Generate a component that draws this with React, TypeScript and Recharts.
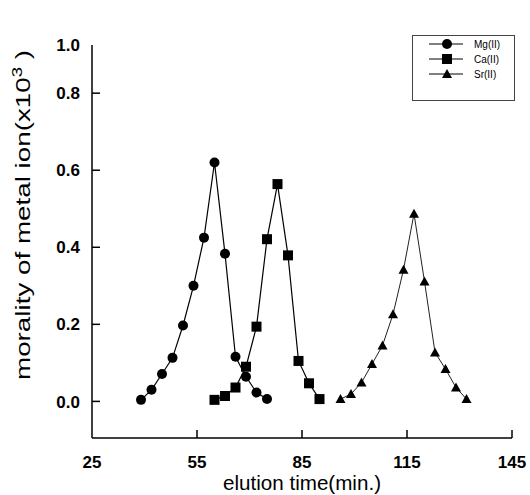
import React from "react";
import { Legend, Line, LineChart, XAxis, YAxis } from "recharts";

// elution time (min.) and molality (x10^3)
const mgTime = [39, 42, 45, 48, 51, 54, 57, 60, 63, 66, 69, 72, 75];
const mgValue = [0.004, 0.03, 0.071, 0.113, 0.197, 0.3, 0.425, 0.62, 0.383, 0.116, 0.064, 0.023, 0.006];

const caTime = [60, 63, 66, 69, 72, 75, 78, 81, 84, 87, 90];
const caValue = [0.004, 0.014, 0.036, 0.09, 0.194, 0.421, 0.564, 0.379, 0.105, 0.047, 0.006];

const srTime = [96, 99, 102, 105, 108, 111, 114, 117, 120, 123, 126, 129, 132];
const srValue = [0.006, 0.019, 0.049, 0.097, 0.145, 0.226, 0.342, 0.487, 0.311, 0.127, 0.084, 0.036, 0.006];

const seriesNames = ["Mg(II)", "Ca(II)", "Sr(II)"];

const xTicks = [25, 55, 85, 115, 145];
// the printed axis is squeezed at the top: its "1.0" label sits where ~0.925 falls
const Y_TOP = 0.925;
const yTicks = [0, 0.2, 0.4, 0.6, 0.8, Y_TOP];

const FONT = "'Liberation Sans', Arial, sans-serif";

const zip = (t: number[], v: number[]) => t.map((x, i) => ({ t: x, v: v[i] }));
const mgData = zip(mgTime, mgValue);
const caData = zip(caTime, caValue);
const srData = zip(srTime, srValue);

function CircleDot(p: any) {
  if (p.cx == null) return null;
  return <circle cx={p.cx} cy={p.cy} r={5} fill="#000" />;
}
function SquareDot(p: any) {
  if (p.cx == null) return null;
  return <rect x={p.cx - 5} y={p.cy - 5} width={10} height={10} fill="#000" />;
}
function TriangleDot(p: any) {
  if (p.cx == null) return null;
  return <polygon points={`${p.cx},${p.cy - 5} ${p.cx - 5},${p.cy + 4} ${p.cx + 5},${p.cy + 4}`} fill="#000" />;
}

function YTick({ x, y, payload }: any) {
  const top = payload.value === Y_TOP;
  return (
    <g>
      {!top && <line x1={x + 12} x2={x + 20} y1={y} y2={y} stroke="#000" strokeWidth={1.5} />}
      <text x={x} y={y} dy="0.36em" textAnchor="end" fontFamily={FONT} fontWeight="bold" fontSize={17} fill="#000">
        {top ? "1.0" : payload.value.toFixed(1)}
      </text>
    </g>
  );
}

function XTick({ x, y, payload }: any) {
  return (
    <g>
      {payload.value !== 25 && <line x1={x} x2={x} y1={y - 18} y2={y - 26} stroke="#000" strokeWidth={1.5} />}
      <text x={x} y={y} dy="0.72em" textAnchor="middle" fontFamily={FONT} fontWeight="bold" fontSize={17} fill="#000">
        {payload.value}
      </text>
    </g>
  );
}

function LegendBox() {
  const marks = [
    (cx: number, cy: number) => <circle cx={cx} cy={cy} r={5} fill="#000" />,
    (cx: number, cy: number) => <rect x={cx - 5} y={cy - 5} width={10} height={10} fill="#000" />,
    (cx: number, cy: number) => <polygon points={`${cx},${cy - 5} ${cx - 5},${cy + 4} ${cx + 5},${cy + 4}`} fill="#000" />,
  ];
  return (
    <div style={{ width: 103, height: 66, border: "1px solid #444", boxSizing: "border-box", background: "#fff" }}>
      <svg width={101} height={64} style={{ display: "block" }}>
        {seriesNames.map((name, i) => {
          const cy = 8 + i * 15;
          return (
            <g key={name}>
              <line x1={16} x2={50} y1={cy} y2={cy} stroke="#000" strokeWidth={1} />
              {marks[i](34, cy)}
              <text x={61} y={cy} dy="0.35em" fontFamily={FONT} fontSize={10} fill="#000">
                {name}
              </text>
            </g>
          );
        })}
      </svg>
    </div>
  );
}

export default function App() {
  return (
    <div style={{ position: "absolute", left: 0, top: 0, width: 530, height: 495, background: "#fff" }}>
      <LineChart width={530} height={495} margin={{ top: 45, right: 18, left: 0, bottom: 0 }}>
        <XAxis
          type="number"
          dataKey="t"
          domain={[25, 145]}
          ticks={xTicks}
          height={57}
          tickSize={0}
          tickMargin={18}
          tick={<XTick />}
          axisLine={{ stroke: "#000", strokeWidth: 1.5 }}
          label={{
            content: ({ viewBox }: any) => (
              <text
                x={viewBox.x + viewBox.width / 2}
                y={490}
                textAnchor="middle"
                fontFamily={FONT}
                fontSize={20}
                textLength={158}
                lengthAdjust="spacingAndGlyphs"
                fill="#000"
              >
                elution time(min.)
              </text>
            ),
          }}
        />
        <YAxis
          type="number"
          domain={[-0.095, Y_TOP]}
          ticks={yTicks}
          width={92}
          tickSize={0}
          tickMargin={12}
          tick={<YTick />}
          axisLine={{ stroke: "#000", strokeWidth: 1.5 }}
          label={{
            content: () => (
              <text
                transform="translate(30, 215) rotate(-90)"
                textAnchor="middle"
                fontFamily={FONT}
                fontSize={21}
                textLength={330}
                lengthAdjust="spacingAndGlyphs"
                fill="#000"
              >
                morality of metal ion(x10
                <tspan dy={-8} fontSize={14}>3</tspan>
                <tspan dy={8}> )</tspan>
              </text>
            ),
          }}
        />
        <Legend
          layout="horizontal"
          verticalAlign="middle"
          align="center"
          content={() => <LegendBox />}
          wrapperStyle={{ position: "absolute", left: 412, top: 35, width: 103, height: 66 }}
        />
        <Line data={mgData} dataKey="v" type="linear" stroke="#000" strokeWidth={1.2} dot={<CircleDot />} isAnimationActive={false} />
        <Line data={caData} dataKey="v" type="linear" stroke="#000" strokeWidth={1.2} dot={<SquareDot />} isAnimationActive={false} />
        <Line data={srData} dataKey="v" type="linear" stroke="#222" strokeWidth={1} dot={<TriangleDot />} isAnimationActive={false} />
      </LineChart>
    </div>
  );
}
